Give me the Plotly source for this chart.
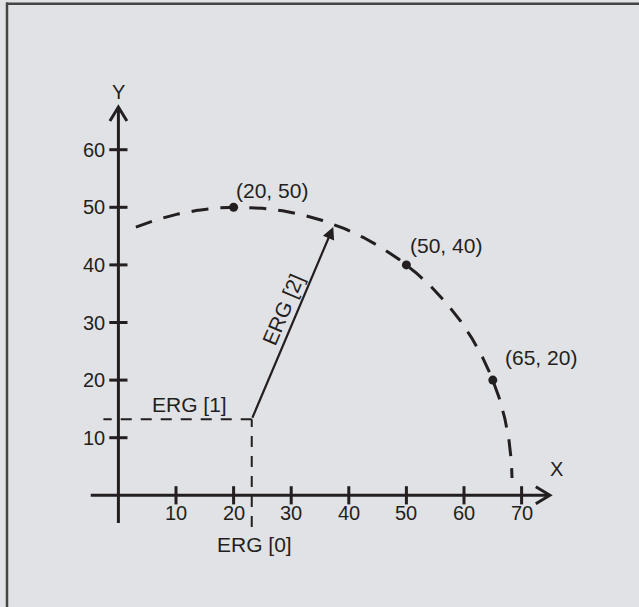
import numpy as np
import plotly.graph_objects as go

# ---------------- data ----------------
point_x = [20, 50, 65]
point_y = [50, 40, 20]
point_labels = ["(20, 50)", "(50, 40)", "(65, 20)"]

x_ticks = [10, 20, 30, 40, 50, 60, 70]
y_ticks = [10, 20, 30, 40, 50, 60]

erg_center = [23.15, 13.2]      # ERG[0], ERG[1]
erg_tip = [37.3, 46.6]          # end of ERG[2] vector
arc_start_deg = 112.0           # where the dashed arc begins (left end)
arc_end_deg = 0.6               # where the dashed arc ends (near x axis)

x_axis_span = [-4.8, 74.9]
y_axis_span = [-4.8, 67.4]

# ---------------- style ----------------
INK = "#231f20"
BG = "#e1e2e6"
FONT = "Liberation Sans, Arial, sans-serif"
FS = 20
FS_LAB = 21
W, H = 639, 607
PX = 5.76                         # pixels per data unit
X_RANGE = [-118.4 / PX, (W - 118.4) / PX]
Y_RANGE = [(495.3 - H) / PX, 495.3 / PX]


def circle_through(p1, p2, p3):
    (x1, y1), (x2, y2), (x3, y3) = p1, p2, p3
    d = 2 * (x1 * (y2 - y3) + x2 * (y3 - y1) + x3 * (y1 - y2))
    ux = ((x1**2 + y1**2) * (y2 - y3) + (x2**2 + y2**2) * (y3 - y1) + (x3**2 + y3**2) * (y1 - y2)) / d
    uy = ((x1**2 + y1**2) * (x3 - x2) + (x2**2 + y2**2) * (x1 - x3) + (x3**2 + y3**2) * (x2 - x1)) / d
    r = np.hypot(x1 - ux, y1 - uy)
    return ux, uy, r


cx, cy, r = circle_through(*zip(point_x, point_y))
th = np.radians(np.linspace(arc_start_deg, arc_end_deg, 400))
arc_x = cx + r * np.cos(th)
arc_y = cy + r * np.sin(th)

fig = go.Figure()

# dashed arc through the three points
fig.add_trace(go.Scatter(x=arc_x, y=arc_y, mode="lines",
                         line=dict(color=INK, width=3, dash="17px,12px"),
                         hoverinfo="skip"))

# axes
fig.add_trace(go.Scatter(x=x_axis_span, y=[0, 0], mode="lines",
                         line=dict(color=INK, width=3), hoverinfo="skip"))
fig.add_trace(go.Scatter(x=[0, 0], y=y_axis_span, mode="lines",
                         line=dict(color=INK, width=3), hoverinfo="skip"))

# open arrow heads at the axis ends
back, side = 14 / PX, 8.5 / PX
xt = x_axis_span[1]
yt = y_axis_span[1]
fig.add_trace(go.Scatter(x=[xt - back, xt, xt - back], y=[side, 0, -side], mode="lines",
                         line=dict(color=INK, width=3), hoverinfo="skip"))
fig.add_trace(go.Scatter(x=[-side, 0, side], y=[yt - back, yt, yt - back], mode="lines",
                         line=dict(color=INK, width=3), hoverinfo="skip"))

# tick marks
fig.add_trace(go.Scatter(x=x_ticks, y=[0] * len(x_ticks), mode="markers",
                         marker=dict(symbol="line-ns", size=13, line=dict(color=INK, width=3)),
                         hoverinfo="skip"))
fig.add_trace(go.Scatter(x=[0] * len(y_ticks), y=y_ticks, mode="markers",
                         marker=dict(symbol="line-ew", size=13, line=dict(color=INK, width=3)),
                         hoverinfo="skip"))

# ERG[1] horizontal dashed (from the corner leftwards)
fig.add_trace(go.Scatter(x=[erg_center[0], -2.6], y=[erg_center[1], erg_center[1]], mode="lines",
                         line=dict(color=INK, width=2, dash="11px,9px"), hoverinfo="skip"))
# ERG[0] vertical dashed (from the bottom up)
fig.add_trace(go.Scatter(x=[erg_center[0], erg_center[0]], y=[-5.5, erg_center[1]], mode="lines",
                         line=dict(color=INK, width=2, dash="11px,9px"), hoverinfo="skip"))

# points on the circle
fig.add_trace(go.Scatter(x=point_x, y=point_y, mode="markers",
                         marker=dict(color=INK, size=9), hoverinfo="skip"))

annotations = []
# ERG[2] vector
annotations.append(dict(x=erg_tip[0], y=erg_tip[1], ax=erg_center[0], ay=erg_center[1],
                        xref="x", yref="y", axref="x", ayref="y", text="",
                        showarrow=True, arrowhead=2, arrowsize=1.1, arrowwidth=2.2,
                        arrowcolor=INK, standoff=0, startstandoff=0))

tfont = dict(family=FONT, size=FS, color=INK)
lfont = dict(family=FONT, size=FS_LAB, color=INK)
for t in x_ticks:
    annotations.append(dict(x=t, y=0, xref="x", yref="y", text=str(t), showarrow=False,
                            yanchor="middle", xanchor="center", yshift=-18, font=tfont))
for t in y_ticks:
    annotations.append(dict(x=0, y=t, xref="x", yref="y", text=str(t), showarrow=False,
                            yanchor="middle", xanchor="right", xshift=-11, font=tfont))

annotations.append(dict(x=0, y=yt, xref="x", yref="y", text="Y", showarrow=False,
                        yanchor="middle", xanchor="center", yshift=15, font=tfont))
annotations.append(dict(x=xt, y=0, xref="x", yref="y", text="X", showarrow=False,
                        yanchor="middle", xanchor="center", xshift=7, yshift=26, font=tfont))

label_offsets = [(0.0, 3.0), (0.3, 3.3), (1.8, 4.0)]
for px_, py_, lab, (dx, dy) in zip(point_x, point_y, point_labels, label_offsets):
    annotations.append(dict(x=px_ + dx, y=py_ + dy, xref="x", yref="y", text=lab,
                            showarrow=False, xanchor="left", yanchor="middle", font=lfont))

annotations.append(dict(x=5.5, y=15.7, xref="x", yref="y", text="ERG [1]", showarrow=False,
                        xanchor="left", yanchor="middle", font=lfont))
annotations.append(dict(x=erg_center[0] + 0.4, y=-8.6, xref="x", yref="y", text="ERG [0]",
                        showarrow=False, xanchor="center", yanchor="middle", font=lfont))
annotations.append(dict(x=28.6, y=32.2, xref="x", yref="y", text="ERG [2]", showarrow=False,
                        xanchor="center", yanchor="middle", textangle=-67, font=lfont))

# frame lines (top and left) of the figure panel
shapes = [
    dict(type="line", xref="paper", yref="paper", x0=6 / W, x1=1, y0=1 - 3.8 / H, y1=1 - 3.8 / H,
         line=dict(color="#444444", width=2.5)),
    dict(type="line", xref="paper", yref="paper", x0=7 / W, x1=7 / W, y0=0, y1=1 - 2.6 / H,
         line=dict(color="#444444", width=2.5)),
]

fig.update_layout(
    width=W, height=H,
    margin=dict(l=0, r=0, t=0, b=0, pad=0, autoexpand=False),
    paper_bgcolor=BG, plot_bgcolor=BG,
    showlegend=False,
    xaxis=dict(range=X_RANGE, visible=False, fixedrange=True),
    yaxis=dict(range=Y_RANGE, visible=False, fixedrange=True),
    annotations=annotations,
    shapes=shapes,
    font=tfont,
)

fig.write_html(
    "out.html",
    config={"displayModeBar": False},
    post_script=(
        "document.documentElement.style.margin='0';"
        "document.documentElement.style.overflow='hidden';"
        "document.documentElement.style.background='" + BG + "';"
        "document.body.style.margin='0';"
        "document.body.style.overflow='hidden';"
        "document.body.style.background='" + BG + "';"
    ),
)
